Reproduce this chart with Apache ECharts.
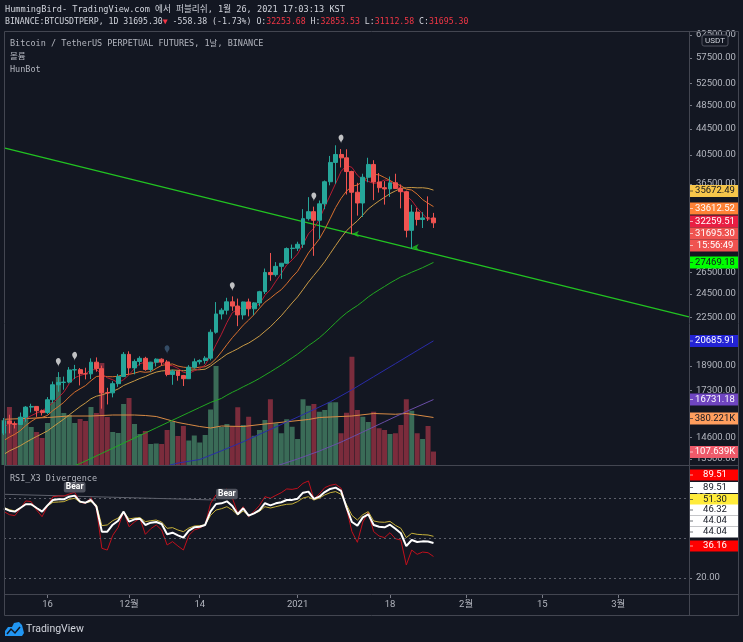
<!DOCTYPE html>
<html>
<head>
<meta charset="utf-8">
<script src="https://cdn.jsdelivr.net/npm/echarts@6/dist/echarts.min.js"></script>
<style>
html,body{margin:0;padding:0;background:#131722;overflow:hidden;}
#chart{width:743px;height:642px;}
</style>
</head>
<body>
<div id="chart"></div>
<script>
// ================= DATA =================
// daily categories: 2020-11-08 .. 2021-03-14
const firstDay = '2020-11-08';
const dayCount = 127;
const dates = [];
(function () {
  const t0 = Date.parse(firstDay + 'T00:00:00Z');
  for (let k = 0; k < dayCount; k++) dates.push(new Date(t0 + k * 86400000).toISOString().slice(0, 10));
})();

const xTickDates = ['2020-11-16', '2020-12-01', '2020-12-14', '2021-01-01', '2021-01-18', '2021-02-01', '2021-02-15', '2021-03-01'];
const xTickTexts = ['16', '12월', '14', '2021', '18', '2월', '15', '3월'];

const priceTicks = [62500, 57500, 52500, 48500, 44500, 40500, 36500, 26500, 24500, 22500, 18900, 17300, 14600, 13500];
const rsiTicks = [20, 80];
const rsiLevels = [80, 50, 20];

const opens = [14817,15480,15330,15290,15700,16280,16320,16070,15960,16720,
  17650,17800,17820,18620,18640,18370,18360,19150,18710,17150,
  17140,17720,18180,19700,18760,19200,19420,18650,19150,19360,
  19170,18320,18540,18250,18040,18810,19180,19270,19430,21340,
  22800,23110,23820,23460,22720,23810,23230,23730,24710,26490,
  26280,27080,27390,28880,28920,29330,32180,33000,31990,33950,
  36770,39430,40580,40090,38150,35400,34050,37370,39140,36740,
  35990,35830,36630,35890,35470,30850,32950,32080,32260,32253.68];
const highs = [15650,15840,15460,15965,16340,16481,16330,16140,16880,17858,
  18476,18179,18815,18965,18750,18770,19418,19484,18915,17457,
  17880,18345,19863,19918,19342,19566,19527,19177,19420,19420,
  19294,18639,18557,18292,18948,19411,19349,19570,21560,23800,
  23285,24171,24295,24102,23837,24100,23794,24789,26867,28422,
  27500,27410,28996,29300,29600,33300,34778,33600,34360,36939,
  40365,41950,41380,41350,38264,36628,37850,40100,39747,37950,
  36852,37469,37850,36415,35600,33826,33456,32944,34875,32853.53];
const lows = [14717,14805,15070,15280,15440,15965,15715,15793,15870,16531,
  17214,17335,17740,18018,17610,18000,18018,18502,16188,16438,
  16865,17517,18178,18330,18330,18925,18565,18500,18857,18902,
  18200,17650,17911,17572,18020,18711,19000,19050,19278,21230,
  22350,22750,23060,21815,22353,22600,22703,23433,24500,25700,
  26101,25880,27320,27850,28624,28946,31963,28130,29900,33288,
  36300,36500,38720,35111,30420,32531,32380,36701,34408,35357,
  33850,34800,35844,33400,30071,28850,31390,31106,31910,31112.58];
const closes = [15480,15330,15290,15700,16280,16320,16070,15960,16720,17650,
  17800,17820,18620,18640,18370,18360,19150,18710,17150,17140,
  17720,18180,19700,18760,19200,19420,18650,19150,19360,19170,
  18320,18540,18250,18040,18810,19180,19270,19430,21340,22800,
  23110,23820,23460,22720,23810,23230,23730,24710,26490,26280,
  27080,27390,28880,28920,29330,32180,33000,31990,33950,36770,
  39430,40580,40090,38150,35400,34050,37370,39140,36740,35990,
  35830,36630,35890,35470,30850,32950,32080,32260,32250,31695.30];

// volume, thousands
const volumes = [360,464,320,384,456,304,264,216,336,504,
  704,416,400,336,368,352,464,416,816,384,
  264,256,488,536,328,248,272,168,172,168,
  280,348,232,312,196,236,180,240,444,792,
  304,328,312,462,320,386,234,280,360,526,
  334,254,366,306,208,526,474,488,426,440,
  502,502,254,418,866,440,386,344,426,294,
  280,248,254,320,526,434,254,208,312,107.639];
const volMA = [[0,366],[4,372],[8,380],[12,392],[16,392],[20,400],[24,400],[26,396],[28,388],[30,364],
  [32,340],[34,324],[36,308],[38,296],[40,312],[44,308],[48,328],[52,346],[56,364],[58,380],
  [60,384],[64,392],[68,412],[72,406],[74,412],[76,400],[79,380.221]];

const ma5 = [15130,15366,15306,15328,15616,15784,15932,16066,16270,16544,
  16840,17190,17722,18106,18250,18362,18628,18646,18348,18102,
  17974,17780,17978,18300,18712,19052,19146,19036,19156,19150,
  18930,18908,18728,18464,18392,18564,18710,18946,19606,20404,
  21190,22100,22906,23182,23384,23408,23390,23640,24394,24888,
  25658,26390,27224,27710,28320,29340,30462,31084,32090,33578,
  35028,36544,38164,39004,38730,37654,37012,36822,36540,36658,
  37014,36866,36216,35962,34934,34358,33448,32722,32078,32259.51];
const ma10 = [14434,14611,14760,14954,15227,15457,15649,15686,15799,16080,
  16312,16561,16894,17188,17397,17601,17909,18184,18227,18176,
  18168,18204,18312,18324,18407,18513,18463,18507,18728,18931,
  18991,19027,18882,18810,18771,18747,18809,18837,19035,19398,
  19877,20405,20926,21394,21894,22299,22745,23273,23788,24136,
  24533,24890,25432,26052,26604,27499,28426,29154,29900,30949,
  32184,33503,34624,35547,36154,36341,36778,37493,37772,37694,
  37334,36939,36519,36251,35796,35686,35157,34469,34020,33612.52];
const ma20 = [13728,13899,14024,14160,14328,14488,14640,14784,14938,15156,
  15373,15586,15827,16071,16312,16529,16779,16935,17013,17128,
  17240,17383,17603,17756,17902,18057,18186,18346,18478,18554,
  18580,18616,18597,18567,18589,18630,18636,18672,18882,19165,
  19434,19716,19904,20102,20333,20523,20777,21055,21412,21767,
  22205,22648,23179,23723,24249,24899,25586,26214,26844,27543,
  28359,29197,30028,30800,31379,31920,32602,33324,33836,34322,
  34759,35221,35572,35899,35975,36014,35968,35981,35896,35672.49];
const ma60 = [[12,13080],[14,13277],[16,13525],[18,13775],[20,14031],[22,14292],[24,14557],[26,14828],
  [28,15104],[30,15385],[32,15671],[34,15963],[36,16260],[38,16560],
  [40,16801],[41,16999],[42,17177],[43,17339],[44,17521],[45,17689],[46,17868],[47,18062],[48,18276],[49,18492],
  [50,18719],[51,18950],[52,19201],[53,19454],[54,19717],[55,20019],[56,20334],[57,20607],[58,20913],[59,21278],
  [60,21678],[61,22098],[62,22512],[63,22886],[64,23205],[65,23500],[66,23855],[67,24241],[68,24575],[69,24881],
  [70,25181],[71,25495],[72,25783],[73,26063],[74,26271],[75,26514],[76,26730],[77,26956],[78,27207],[79,27469.18]];
const maBlue = [[29,13100],[32,13300],[36,13470],[40,13900],[44,14363],[48,14888],[52,15424],[56,15987],
  [60,16590],[64,17333],[68,18172],[72,19050],[76,19974],[79,20685.91]];
const maPurple = [[50,13150],[54,13496],[58,13888],[62,14346],[66,14876],[70,15440],[74,16020],[79,16731.18]];
const trendLine = [[0,41560],[126,22550]];

const pivotMarks = [[10,18838],[13,19256],[42,24771],[57,34262],[62,42251]];
const pivotDarkMarks = [[30,19726]];
const trendTouchMarks = [[64,30440],[75,29013]];

const rsiRed = [69.8,67.5,66.8,72,77.8,77.3,71,66,74,81,
  81.5,81.5,83,84.3,76.8,76,80.3,72.3,42.3,41,
  52,58,69.8,58.5,62,64.8,52.8,57,59.8,56,
  44.8,47.3,44,41,52,56,57.5,59.8,76,82.5,
  84,86.8,80,68.6,73.5,66,70,74.5,81,79.8,
  82,84,86.8,86.5,87.3,91,92.8,79.3,83,87.8,
  89.5,90.3,87.3,72,54.8,46.8,62,69.3,54.8,51.5,
  50.3,54,49.5,48.5,29.8,41,37.8,39.5,39,36.16];
const rsiWhite = [72.3,70.5,69.8,72.5,75.3,75.3,72.5,69.8,74.5,78.5,
  79,79,81,81.8,77.3,76.5,78.5,73.5,54.8,54.8,
  60,63,69.8,62.3,64,64.5,59.8,61.5,62,60.5,
  52.8,54,52,50.3,55.5,58,58.5,59.8,70,75.5,
  76,77.5,74,67.8,72.3,66.8,68.5,71,76.1,74.5,
  76,76.8,78.5,78.6,79.5,84,84.8,79.3,81,84.5,
  86.8,87.8,85.3,73,62,59.3,65.5,67.8,59.8,58.5,
  58,60,57,53.6,44,48.5,47,47.5,47.4,46.32];
const rsiYellow = [72.8,71.3,70.3,72.8,75.3,75,72.5,70.3,74,76.8,
  77,77.3,79,79.8,76.8,76.5,77.3,74.8,59.3,59.8,
  63,65,69.8,64.3,65,65.3,62.3,63,63.5,62,
  57.3,57.8,56,54.8,57.5,59,59.3,59.8,67,71,
  72,73.5,71,67.3,70.3,66.8,68.5,70,73.5,72.5,
  73.5,74.5,75.3,75.5,77.3,80,81,78.5,80,82.3,
  84,84.8,82.8,75,67,63.5,67.5,69.8,62.8,62,
  61.8,62.5,59.5,57.3,50.3,53.6,52.8,52.5,52.3,51.30];
const rsiDivLine = [[0,82.8],[39,78.5]];
const bearMarks = [[13,81.8],[41,76.8]];

const countdownText = '15:56:49';
const rsiTagTexts = ['89.51', '89.51', '51.30', '46.32', '44.04', '44.04', '36.16'];

// ================= STYLE / LAYOUT =================
const BG = '#131722';
const MONO = '"DejaVu Sans Mono", "Noto Sans CJK KR", monospace';
const SANS = 'Roboto, "Noto Sans CJK KR", sans-serif';
const AXIS_TXT = '#b2b5be';
const FRAME = '#434651';
const UP = '#26a69a', DOWN = '#ef5350';
const VOL_UP = '#3a6b57', VOL_DOWN = '#7b2c3c';
const PLOT_L = 4, PLOT_W = 685;

const mainTagLayout = [ // y centre, background, text colour
  [191, '#f7c64a', '#131722'],
  [208.5, '#ff8236', '#ffffff'],
  [221.5, '#e91e43', '#ffffff'],
  [233.5, '#ef5350', '#ffffff'],
  [245.5, '#ef5350', '#ffffff'],
  [262.5, '#00ff00', '#131722'],
  [341, '#2323d4', '#ffffff'],
  [399.5, '#6f45c0', '#ffffff'],
  [418.5, '#ff9e5e', '#131722'],
  [452, '#ef5a6a', '#ffffff']
];
const rsiTagLayout = [
  [475, '#ff0000', '#ffffff'],
  [487.5, '#ffffff', '#131722'],
  [499.5, '#ffeb3b', '#131722'],
  [510, '#ffffff', '#131722'],
  [521, '#ffffff', '#131722'],
  [532, '#ffffff', '#131722'],
  [546, '#ff0000', '#ffffff']
];

// ================= BUILD =================
const n = closes.length;
const fmt2 = v => v.toFixed(2);
const fmtK = v => v.toFixed(3) + 'K';
const mainTagTexts = [
  fmt2(ma20[n - 1]), fmt2(ma10[n - 1]), fmt2(ma5[n - 1]), fmt2(closes[n - 1]), countdownText,
  fmt2(ma60[ma60.length - 1][1]), fmt2(maBlue[maBlue.length - 1][1]), fmt2(maPurple[maPurple.length - 1][1]),
  fmtK(volMA[volMA.length - 1][1]), fmtK(volumes[n - 1])
];
const candleData = opens.map((o, i) => [o, closes[i], lows[i], highs[i]]);
const volData = volumes.map((v, i) => ({ value: v, itemStyle: { color: closes[i] >= opens[i] ? VOL_UP : VOL_DOWN } }));
const tickIdx = xTickDates.map(d => dates.indexOf(d));

const chg = closes[n - 1] - opens[n - 1];
const pct = chg / opens[n - 1] * 100;
const header1 = 'HummingBird- TradingView.com 에서 퍼블리쉬, 1월 26, 2021 17:03:13 KST';
const header2 = '{w|BINANCE:BTCUSDTPERP, 1D ' + fmt2(closes[n - 1]) + '}{r|▼}{w| ' + fmt2(chg) + ' (' + pct.toFixed(2) + '%) O:}{r|' +
  fmt2(opens[n - 1]) + '}{w| H:}{r|' + fmt2(highs[n - 1]) + '}{w| L:}{r|' + fmt2(lows[n - 1]) + '}{w| C:}{r|' + fmt2(closes[n - 1]) + '}';

function txt(x, y, text, color, size, family, extra) {
  return Object.assign({
    type: 'text', x: x, y: y, z: 120, silent: true,
    style: { text: text, fill: color, fontSize: size, fontFamily: family, verticalAlign: 'middle', textVerticalAlign: 'middle' }
  }, extra || {});
}
function tag(text, yc, bg, fg, h) {
  return [
    { type: 'rect', z: 110, silent: true, shape: { x: 690, y: yc - h / 2, width: 48, height: h }, style: { fill: bg } },
    { type: 'line', z: 111, silent: true, shape: { x1: 690, y1: yc, x2: 693, y2: yc }, style: { stroke: fg, lineWidth: 1, opacity: 0.6 } },
    { type: 'text', z: 112, silent: true, x: 715, y: yc,
      style: { text: text, fill: fg, fontSize: 9.5, fontFamily: SANS, textAlign: 'center', align: 'center', verticalAlign: 'middle', textVerticalAlign: 'middle' } }
  ];
}

const graphics = [];
graphics.push({ type: 'rect', z: 100, silent: true, shape: { x: 4.5, y: 31.5, width: 734, height: 584 }, style: { fill: 'none', stroke: FRAME, lineWidth: 1 } });
graphics.push({ type: 'line', z: 100, silent: true, shape: { x1: 689.5, y1: 31, x2: 689.5, y2: 616 }, style: { stroke: FRAME, lineWidth: 1 } });
graphics.push({ type: 'line', z: 100, silent: true, shape: { x1: 4, y1: 465.5, x2: 739, y2: 465.5 }, style: { stroke: FRAME, lineWidth: 1 } });
graphics.push({ type: 'line', z: 100, silent: true, shape: { x1: 4, y1: 594.5, x2: 739, y2: 594.5 }, style: { stroke: FRAME, lineWidth: 1 } });
graphics.push(txt(5, 10, header1, '#d1d4dc', 8.6, MONO));
graphics.push(txt(5, 22, header2, '#d1d4dc', 8.2, MONO, {
  style: { text: header2, verticalAlign: 'middle', textVerticalAlign: 'middle', fontSize: 8.2, fontFamily: MONO,
    rich: { w: { fill: '#d1d4dc', fontSize: 8.2, fontFamily: MONO }, r: { fill: '#f23645', fontSize: 8.2, fontFamily: MONO } } }
}));
graphics.push(txt(10, 44, 'Bitcoin / TetherUS PERPETUAL FUTURES, 1날, BINANCE', AXIS_TXT, 8.5, MONO));
graphics.push(txt(10, 57, '볼륨', AXIS_TXT, 8.5, MONO));
graphics.push(txt(10, 70, 'HunBot', AXIS_TXT, 8.5, MONO));
graphics.push(txt(10, 479, 'RSI_X3 Divergence', AXIS_TXT, 8.5, MONO));
// USDT unit box
graphics.push({ type: 'rect', z: 115, silent: true, shape: { x: 702, y: 35, width: 26, height: 11, r: 2 }, style: { fill: BG, stroke: '#50535e', lineWidth: 1 } });
graphics.push({ type: 'text', z: 116, silent: true, x: 715, y: 40.5, style: { text: 'USDT', fill: '#d1d4dc', fontSize: 8, fontFamily: SANS, textAlign: 'center', align: 'center', verticalAlign: 'middle', textVerticalAlign: 'middle' } });
// TradingView footer
graphics.push({ type: 'polygon', z: 120, silent: true, shape: { points: [[5,636],[5,631],[8,627],[12,627],[14,623],[19,622],[22,625],[23,629],[24,633],[22,636]] }, style: { fill: '#2196f3' } });
graphics.push({ type: 'polyline', z: 121, silent: true, shape: { points: [[7, 634], [11, 629], [15, 633], [20, 627]] }, style: { stroke: '#131722', lineWidth: 1.5, fill: 'none' } });
graphics.push(txt(26, 629, 'TradingView', '#d1d4dc', 10.5, SANS));
// price tags
mainTagTexts.forEach((t, k) => { tag(t, mainTagLayout[k][0], mainTagLayout[k][1], mainTagLayout[k][2], 12).forEach(g => graphics.push(g)); });
rsiTagTexts.forEach((t, k) => { tag(t, rsiTagLayout[k][0], rsiTagLayout[k][1], rsiTagLayout[k][2], 11).forEach(g => graphics.push(g)); });

const lineBase = { type: 'line', symbol: 'none', connectNulls: true, silent: true, clip: true };

const option = {
  backgroundColor: BG,
  animation: false,
  grid: [
    { left: PLOT_L, top: 31, width: PLOT_W, height: 434 },
    { left: PLOT_L, top: 265, width: PLOT_W, height: 200 },
    { left: PLOT_L, top: 466, width: PLOT_W, height: 127 },
    { left: PLOT_L, top: 594, width: PLOT_W, height: 1 }
  ],
  xAxis: [0, 1, 2, 3].map(g => ({
    type: 'category', gridIndex: g, data: dates, boundaryGap: false, show: g === 3,
    axisLine: { show: false },
    axisTick: { show: g === 3, interval: (i) => tickIdx.indexOf(i) >= 0, length: 3, lineStyle: { color: '#787b86' } },
    axisLabel: {
      show: g === 3, interval: (i) => tickIdx.indexOf(i) >= 0, margin: 5,
      formatter: (v) => { const k = xTickDates.indexOf(v); return k >= 0 ? xTickTexts[k] : ''; },
      color: AXIS_TXT, fontSize: 9.5, fontFamily: SANS
    },
    splitLine: { show: false }
  })),
  yAxis: [
    { type: 'log', gridIndex: 0, position: 'right', logBase: 10, min: 13206, max: 63411,
      axisLine: { show: false }, splitLine: { show: false },
      axisTick: { show: true, customValues: priceTicks, length: 3, lineStyle: { color: '#787b86' } },
      axisLabel: { customValues: priceTicks, formatter: v => Number(v).toFixed(2), color: AXIS_TXT, fontSize: 9.5, fontFamily: SANS, margin: 7 } },
    { type: 'value', gridIndex: 1, min: 0, max: 1600, show: false, splitLine: { show: false } },
    { type: 'value', gridIndex: 2, position: 'right', min: 8.8, max: 104,
      axisLine: { show: false }, splitLine: { show: false },
      axisTick: { show: true, customValues: rsiTicks, length: 3, lineStyle: { color: '#787b86' } },
      axisLabel: { customValues: rsiTicks, formatter: v => Number(v).toFixed(2), color: AXIS_TXT, fontSize: 9.5, fontFamily: SANS, margin: 7 } },
    { type: 'value', gridIndex: 3, show: false }
  ],
  graphic: graphics,
  series: [
    { type: 'bar', xAxisIndex: 1, yAxisIndex: 1, data: volData, barWidth: 5, silent: true, z: 1 },
    Object.assign({}, lineBase, { xAxisIndex: 1, yAxisIndex: 1, data: volMA, lineStyle: { color: '#d98b45', width: 1 }, z: 2 }),
    Object.assign({}, lineBase, { xAxisIndex: 0, yAxisIndex: 0, data: ma60, lineStyle: { color: '#22a822', width: 1 }, z: 3 }),
    Object.assign({}, lineBase, { xAxisIndex: 0, yAxisIndex: 0, data: maBlue, lineStyle: { color: '#2a2ca8', width: 1 }, z: 3 }),
    Object.assign({}, lineBase, { xAxisIndex: 0, yAxisIndex: 0, data: maPurple, lineStyle: { color: '#6a4ea8', width: 1 }, z: 3 }),
    Object.assign({}, lineBase, { xAxisIndex: 0, yAxisIndex: 0, data: trendLine, lineStyle: { color: '#22c322', width: 1.3 }, z: 3 }),
    Object.assign({}, lineBase, { xAxisIndex: 0, yAxisIndex: 0, data: ma20, lineStyle: { color: '#c99a45', width: 1 }, z: 4 }),
    Object.assign({}, lineBase, { xAxisIndex: 0, yAxisIndex: 0, data: ma10, lineStyle: { color: '#d8702e', width: 1 }, z: 4 }),
    Object.assign({}, lineBase, { xAxisIndex: 0, yAxisIndex: 0, data: ma5, lineStyle: { color: '#b71c33', width: 1 }, z: 4 }),
    { type: 'candlestick', xAxisIndex: 0, yAxisIndex: 0, data: candleData, barWidth: 4.4, clip: true, silent: true, z: 5,
      itemStyle: { color: UP, color0: DOWN, borderColor: UP, borderColor0: DOWN, borderWidth: 1 } },
    { type: 'scatter', xAxisIndex: 0, yAxisIndex: 0, data: pivotMarks, symbol: 'pin', symbolSize: [8, 10], silent: true, z: 6,
      itemStyle: { color: '#ececec' } },
    { type: 'scatter', xAxisIndex: 0, yAxisIndex: 0, data: pivotDarkMarks, symbol: 'pin', symbolSize: [8, 10], silent: true, z: 6,
      itemStyle: { color: '#3d5a78' } },
    { type: 'scatter', xAxisIndex: 0, yAxisIndex: 0, data: trendTouchMarks, symbol: 'arrow', symbolRotate: 90, symbolSize: [5, 7], silent: true, z: 6,
      itemStyle: { color: '#22c322' } },
    Object.assign({}, lineBase, { xAxisIndex: 2, yAxisIndex: 2, data: rsiDivLine, lineStyle: { color: '#5d606b', width: 1 }, z: 3,
      markLine: { silent: true, symbol: 'none', label: { show: false }, lineStyle: { color: '#5d606b', type: [2, 3], width: 1 },
        data: rsiLevels.map(v => ({ yAxis: v })) } }),
    Object.assign({}, lineBase, { xAxisIndex: 2, yAxisIndex: 2, data: rsiRed, lineStyle: { color: '#c0101c', width: 1 }, z: 4 }),
    Object.assign({}, lineBase, { xAxisIndex: 2, yAxisIndex: 2, data: rsiYellow, lineStyle: { color: '#c7b23a', width: 1 }, z: 5 }),
    Object.assign({}, lineBase, { xAxisIndex: 2, yAxisIndex: 2, data: rsiWhite, lineStyle: { color: '#ffffff', width: 2 }, z: 6,
      markPoint: { silent: true, symbol: 'rect', symbolSize: 0,
        label: { show: true, position: 'top', distance: 3, formatter: 'Bear', color: '#ffffff', fontSize: 8.5, fontWeight: 'bold',
          fontFamily: SANS, backgroundColor: '#50535e', padding: [1, 2], borderRadius: 2 },
        data: bearMarks.map(p => ({ coord: p })) } })
  ]
};

const chart = echarts.init(document.getElementById('chart'), null, { renderer: 'canvas', width: 743, height: 642 });
chart.setOption(option);
</script>
</body>
</html>
